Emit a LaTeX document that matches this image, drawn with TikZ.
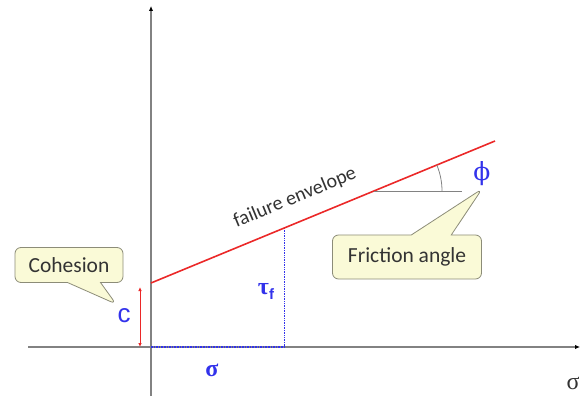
\documentclass[tikz,border=0pt]{standalone}
\usepackage{fontspec}
\setmainfont{Carlito}
\newfontfamily\grk{Liberation Serif}
\newfontfamily\grkphi{DejaVu Serif}
\newfontfamily\lat{Liberation Sans}
\usetikzlibrary{shapes.callouts,arrows.meta}
\definecolor{calloutfill}{RGB}{250,250,215}
\definecolor{calloutborder}{RGB}{140,140,120}
\definecolor{axisgray}{RGB}{130,130,130}
\definecolor{lblblue}{RGB}{50,50,235}
\definecolor{envred}{RGB}{235,40,40}
\tikzset{
  axisline/.style={draw=axisgray, line width=1.2pt, -{Latex[length=5pt,width=4.5pt,fill=black,color=black]}},
  callbox/.style={rectangle callout, rounded corners=6pt, fill=calloutfill, draw=calloutborder, line width=0.8pt, font=\fontsize{21.5}{23}\selectfont, inner sep=0pt, text=black!80},
  bluelbl/.style={text=lblblue, inner sep=0pt},
}
\begin{document}
\begin{tikzpicture}[x=1pt,y=-1pt]
\useasboundingbox (0,0) rectangle (581,398);
% axes
\coordinate (xs) at (28,347);
\coordinate (xe) at (580,347);
\coordinate (ys) at (151,396);
\coordinate (ye) at (151,6);
\draw[axisline] (xs) -- (xe);
\draw[axisline] (ys) -- (ye);
% points
\coordinate (O) at (151,347);
\coordinate (A) at (151,283);
\coordinate (B) at (495,141);
\coordinate (T) at (284,228);
\coordinate (Tb) at (284,347);
\coordinate (C1) at (140,287);
\coordinate (C2) at (140,347);
\coordinate (H1) at (374,191);
\coordinate (H2) at (462,191);
% stress projections
\draw[lblblue, line width=0.7pt, densely dotted] (T) -- (Tb);
\draw[lblblue, line width=1.6pt, densely dotted] (O) -- (Tb);
% failure envelope
\draw[envred, line width=1.6pt] (A) -- (B);
\node[rotate=22.4, font=\fontsize{20}{22}\selectfont, text=black!80, inner sep=0pt] (fe) at (295,198) {failure envelope};
% cohesion arrow
\draw[envred, line width=0.9pt, {Latex[length=4pt,width=3.5pt]}-{Latex[length=4pt,width=3.5pt]}] (C1) -- (C2);
% angle
\draw[axisgray, line width=0.9pt] (H1) -- (H2);
\draw[axisgray, line width=0.8pt] (H2) ++(-20,0) arc[start angle=0, end angle=-22.4, radius=68];
% labels
\node[bluelbl, font=\lat\fontsize{26}{26}\selectfont] (c) at (124,316) {c};
\node[bluelbl, font=\grk\bfseries\fontsize{24}{24}\selectfont] (tau) at (266,291) {τ\raisebox{-5pt}{\fontsize{15}{15}\selectfont\lat f}};
\node[bluelbl, font=\grk\bfseries\fontsize{24}{24}\selectfont] (sig) at (212,370) {σ};
\node[bluelbl, font=\grkphi\fontsize{25}{25}\selectfont] (phi) at (482,174) {ϕ};
\node[text=black!80, font=\grk\fontsize{24}{24}\selectfont, inner sep=0pt] (sigx) at (573,383) {σ};
% callouts
\coordinate (cp) at (116,304);
\node[callbox, minimum width=108pt, minimum height=35pt, callout absolute pointer={(cp)}, callout pointer width=33pt] (coh) at (69,265) {Cohesion};
\coordinate (fp) at (482,189);
\node[callbox, minimum width=149pt, minimum height=44pt, callout absolute pointer={(fp)}, callout pointer width=40pt] (fric) at (407,257) {Friction angle};
\end{tikzpicture}
\end{document}
